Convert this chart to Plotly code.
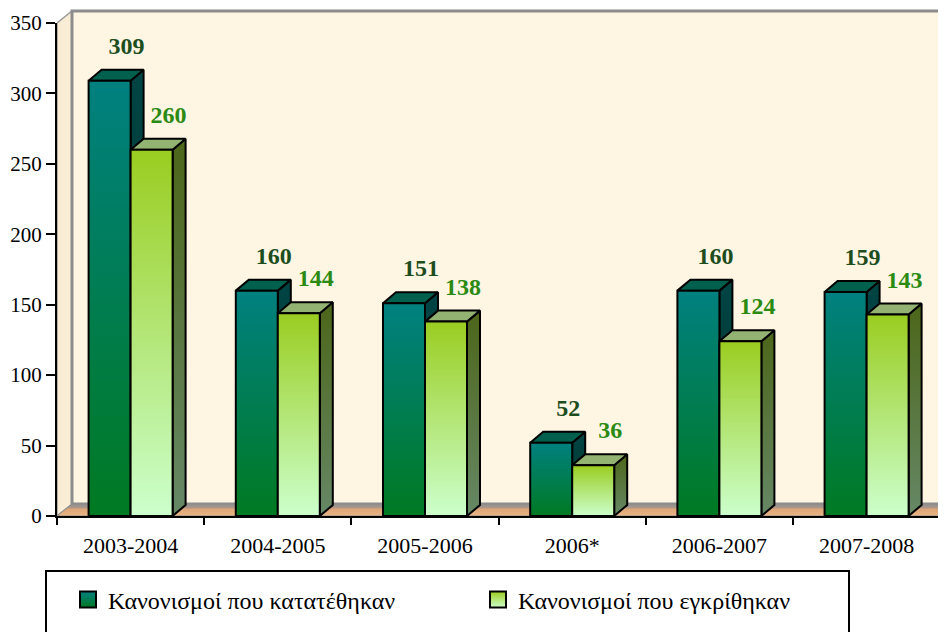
import plotly.graph_objects as go

# ---------------- data ----------------
categories = ["2003-2004", "2004-2005", "2005-2006", "2006*", "2006-2007", "2007-2008"]
submitted = [309, 160, 151, 52, 160, 159]      # Κανονισμοί που κατατέθηκαν
approved = [260, 144, 138, 36, 124, 143]       # Κανονισμοί που εγκρίθηκαν
series_names = ["Κανονισμοί που κατατέθηκαν", "Κανονισμοί που εγκρίθηκαν"]
y_ticks = [0, 50, 100, 150, 200, 250, 300, 350]

# ---------------- geometry (pixels, page coords minus body margin) ----------------
W, H = 946, 632
OFF = 8              # default page body margin
X_LEFT = 57 - OFF    # pixel of category axis start
CAT_PX = 147.2       # pixels per category
Y_ZERO = 516 - OFF   # pixel of value 0
Y_TOP = 23 - OFF     # pixel of value 350
Y_MAXV = 350
PXU = (Y_ZERO - Y_TOP) / Y_MAXV   # pixels per value unit
WALL_DX, WALL_DY = 15, 12
BAR_DX, BAR_DY = 13, 11
BAR_W = 42
PLOT_TOP = 1

x_range = [0, (W - X_LEFT) / CAT_PX]
y_range = [0, (Y_ZERO - PLOT_TOP) / PXU]

wdx, wdy = WALL_DX / CAT_PX, WALL_DY / PXU
bdx, bdy = BAR_DX / CAT_PX, BAR_DY / PXU
bw = BAR_W / CAT_PX
ncat = len(categories)

FONT = "Liberation Serif"

fig = go.Figure()


def poly(xs, ys, fill=None, grad=None, line_color="black", line_width=2):
    kw = dict(x=xs + [xs[0]], y=ys + [ys[0]], mode="lines", fill="toself",
              line=dict(color=line_color, width=line_width),
              hoverinfo="skip", showlegend=False, xaxis="x", yaxis="y")
    if grad is not None:
        kw["fillgradient"] = dict(type="vertical", colorscale=grad)
    else:
        kw["fillcolor"] = fill
    fig.add_trace(go.Scatter(**kw))


# ---------------- walls & floor ----------------
xe = x_range[1] + 0.2
poly([0, wdx, wdx, 0], [0, wdy, Y_MAXV + wdy, Y_MAXV], fill="#faedd6",
     line_color="#9a9a9a", line_width=1.5)
poly([wdx, xe, xe, wdx], [wdy, wdy, Y_MAXV + wdy, Y_MAXV + wdy], fill="#fef6e3",
     line_color="#8c8c8c", line_width=3)
poly([0, xe, xe + wdx, wdx], [0, 0, wdy, wdy],
     grad=[[0, "#eab687"], [0.55, "#dfa677"], [0.72, "#a8968a"], [1, "#909090"]],
     line_color="#8c8c8c", line_width=1)

# ---------------- bars ----------------
styles = [
    dict(front=[[0, "#007a22"], [1, "#008080"]], top="#00604e",
         side=[[0, "#00352a"], [1, "#004444"]], label="#1d4d1d"),
    dict(front=[[0, "#ccffcc"], [1, "#9acd20"]], top="#93b373",
         side=[[0, "#668866"], [1, "#4c6619"]], label="#2b8a12"),
]

for i in range(ncat):
    c = i + 0.5
    for s, vals in enumerate([submitted, approved]):
        v = vals[i]
        st = styles[s]
        x0 = c - bw if s == 0 else c
        x1 = x0 + bw
        # side face
        poly([x1, x1 + bdx, x1 + bdx, x1], [0, bdy, v + bdy, v], grad=st["side"])
        # top face
        poly([x0, x1, x1 + bdx, x0 + bdx], [v, v, v + bdy, v + bdy], fill=st["top"])
        # front face
        poly([x0, x1, x1, x0], [0, 0, v, v], grad=st["front"])

# ---------------- value labels ----------------
LABEL_DX_PX, LABEL_DY_PX = 17, 22
for s, vals in enumerate([submitted, approved]):
    xs, ys = [], []
    for i, v in enumerate(vals):
        c = i + 0.5
        x0 = c - bw if s == 0 else c
        xs.append(x0 + bw / 2 + LABEL_DX_PX / CAT_PX)
        ys.append(v + bdy + LABEL_DY_PX / PXU)
    fig.add_trace(go.Scatter(
        x=xs, y=ys, mode="text", text=[str(v) for v in vals],
        textposition="middle center",
        textfont=dict(family=FONT, size=24, color=styles[s]["label"], weight="bold"),
        hoverinfo="skip", showlegend=False, xaxis="x", yaxis="y", cliponaxis=False))

# ---------------- legend entries ----------------
legend_cols = [("#008080", "#007a22"), ("#9acd20", "#ccffcc")]
for s in range(2):
    fig.add_trace(go.Scatter(
        x=[None], y=[None], mode="markers", name=series_names[s],
        marker=dict(symbol="square", size=16, color=legend_cols[s][0],
                    gradient=dict(type="vertical", color=legend_cols[s][1]),
                    line=dict(color="black", width=2)),
        xaxis="x2", yaxis="y2"))

xdom = [X_LEFT / W, 1]
fig.update_layout(
    width=W, height=H,
    margin=dict(l=0, r=0, t=0, b=0, autoexpand=False),
    paper_bgcolor="white", plot_bgcolor="rgba(0,0,0,0)",
    font=dict(family=FONT, size=21, color="black"),
    xaxis=dict(domain=xdom, range=x_range, anchor="y", automargin=False,
               tickvals=[i + 0.5 for i in range(ncat)], ticktext=categories,
               ticks="outside", ticklen=10, tickcolor="rgba(0,0,0,0)",
               showgrid=False, zeroline=False, showline=False,
               tickfont=dict(family=FONT, size=22)),
    yaxis=dict(domain=[(H - Y_ZERO) / H, (H - PLOT_TOP) / H], range=y_range,
               anchor="x", visible=False, showgrid=False, zeroline=False,
               automargin=False),
    xaxis2=dict(domain=xdom, range=x_range, anchor="y2", automargin=False,
                tickvals=list(range(ncat + 1)), showticklabels=False,
                ticks="outside", ticklen=7, tickwidth=2, tickcolor="black",
                showline=True, linecolor="black", linewidth=2,
                showgrid=False, zeroline=False),
    yaxis2=dict(domain=[(H - Y_ZERO) / H, (H - Y_TOP) / H], range=[0, Y_MAXV],
                anchor="x2", tickvals=y_ticks, automargin=False,
                ticks="outside", ticklen=9, tickwidth=2, tickcolor="black",
                showline=True, linecolor="black", linewidth=2,
                showgrid=False, zeroline=False,
                tickfont=dict(family=FONT, size=21)),
    showlegend=True,
    legend=dict(orientation="h", x=(68 - OFF) / W, xanchor="left",
                y=(H - (600 - OFF)) / H, yanchor="middle",
                bgcolor="rgba(0,0,0,0)", borderwidth=0,
                entrywidth=365, entrywidthmode="pixels",
                font=dict(family=FONT, size=24)),
    shapes=[dict(type="rect", xref="paper", yref="paper",
                 x0=(46 - OFF) / W, x1=(849 - OFF) / W, y0=-0.1,
                 y1=(H - (571 - OFF)) / H,
                 line=dict(color="black", width=2), fillcolor="rgba(0,0,0,0)")],
)

fig.write_html("out.html")
